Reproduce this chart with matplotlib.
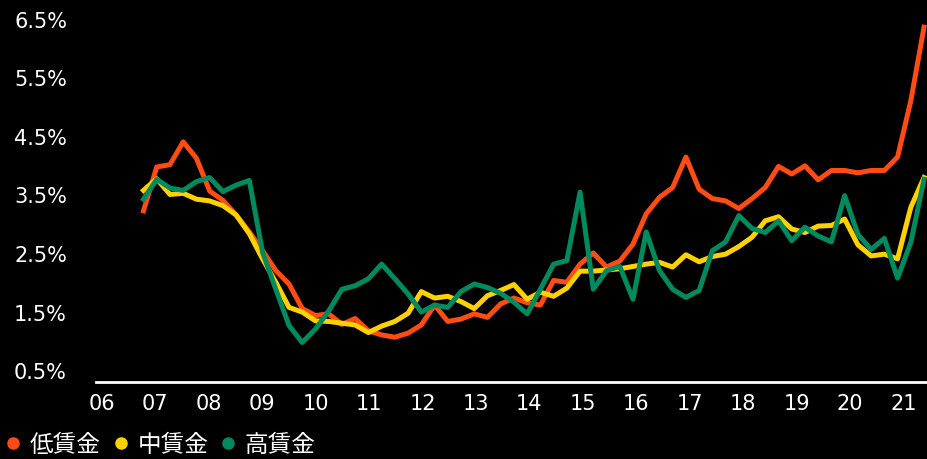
import numpy as np
import matplotlib
matplotlib.use("Agg")
import matplotlib.pyplot as plt
from matplotlib.lines import Line2D

# 四半期ごとの賃金上昇率 (%), 2006Q4 から
low = [3.22, 3.97, 4.01, 4.40, 4.12, 3.56, 3.40, 3.15, 2.86, 2.54,
       2.20, 1.97, 1.55, 1.43, 1.46, 1.28, 1.38, 1.17, 1.10, 1.06,
       1.13, 1.27, 1.61, 1.33, 1.37, 1.46, 1.40, 1.63, 1.73, 1.65,
       1.61, 2.03, 2.00, 2.31, 2.50, 2.26, 2.36, 2.65, 3.17, 3.45,
       3.62, 4.14, 3.59, 3.43, 3.39, 3.26, 3.43, 3.62, 3.98, 3.85,
       3.99, 3.75, 3.91, 3.91, 3.87, 3.91, 3.91, 4.14, 5.10, 6.36]
mid = [3.57, 3.77, 3.50, 3.52, 3.42, 3.39, 3.31, 3.15, 2.83, 2.40,
       2.00, 1.57, 1.49, 1.34, 1.33, 1.30, 1.27, 1.14, 1.25, 1.33,
       1.47, 1.84, 1.73, 1.76, 1.67, 1.55, 1.77, 1.86, 1.96, 1.71,
       1.83, 1.76, 1.90, 2.19, 2.19, 2.21, 2.23, 2.27, 2.31, 2.34,
       2.26, 2.47, 2.35, 2.44, 2.48, 2.61, 2.77, 3.05, 3.12, 2.91,
       2.85, 2.96, 2.97, 3.08, 2.64, 2.45, 2.48, 2.40, 3.28, 3.79]
high = [3.42, 3.76, 3.61, 3.57, 3.72, 3.79, 3.55, 3.66, 3.74, 2.51,
        1.88, 1.26, 0.97, 1.20, 1.51, 1.88, 1.94, 2.06, 2.31, 2.06,
        1.80, 1.49, 1.61, 1.57, 1.84, 1.97, 1.91, 1.81, 1.66, 1.46,
        1.88, 2.31, 2.37, 3.54, 1.88, 2.20, 2.27, 1.71, 2.86, 2.20,
        1.88, 1.74, 1.86, 2.54, 2.69, 3.14, 2.92, 2.85, 3.05, 2.71,
        2.94, 2.79, 2.69, 3.48, 2.82, 2.56, 2.75, 2.07, 2.68, 3.76]

years = ['06', '07', '08', '09', '10', '11', '12', '13', '14', '15',
         '16', '17', '18', '19', '20', '21']
y_ticks = [0.5, 1.5, 2.5, 3.5, 4.5, 5.5, 6.5]
names = ['低賃金', '中賃金', '高賃金']
colors = ['#FF4B14', '#FFD100', '#008A5E']

fig = plt.figure(figsize=(9.28, 4.6), dpi=100, facecolor='black')
ax = fig.add_axes([96 / 928, 77 / 460, 832 / 928, 378 / 460])
ax.set_facecolor('black')

x = np.arange(len(low))
for vals, c in zip([low, mid, high], colors):
    ax.plot(x, vals, color=c, lw=3.6)

ax.set_xlim(-3.59, 59.3)
ax.set_ylim(0.295, 6.756)

for s in ['top', 'right', 'left']:
    ax.spines[s].set_visible(False)
ax.spines['bottom'].set_color('white')
ax.spines['bottom'].set_linewidth(2)

# 年のラベル位置 (インデックス単位)
tick_pos = -3.15 + 4.04 * np.arange(len(years))
ax.set_xticks(tick_pos)
ax.set_xticklabels(years)
ax.set_yticks(y_ticks)
ax.set_yticklabels(['%s%%' % v for v in y_ticks])
ax.tick_params(axis='both', colors='white', length=0, labelsize=15)
ax.tick_params(axis='x', pad=8)
ax.tick_params(axis='y', pad=59)
for lab in ax.get_yticklabels():
    lab.set_horizontalalignment('left')

handles = [Line2D([], [], marker='o', ls='none', color=c, markersize=8) for c in colors]
fig.legend(handles, names, loc='lower left', bbox_to_anchor=(-0.006, -0.014), ncol=3,
           frameon=False, handletextpad=0.3, columnspacing=0.45, handlelength=0.8,
           borderaxespad=0, labelcolor='white',
           prop={'family': ['Noto Sans CJK JP', 'DejaVu Sans'], 'size': 17})

fig.savefig('out.png', dpi=100, facecolor='black')
